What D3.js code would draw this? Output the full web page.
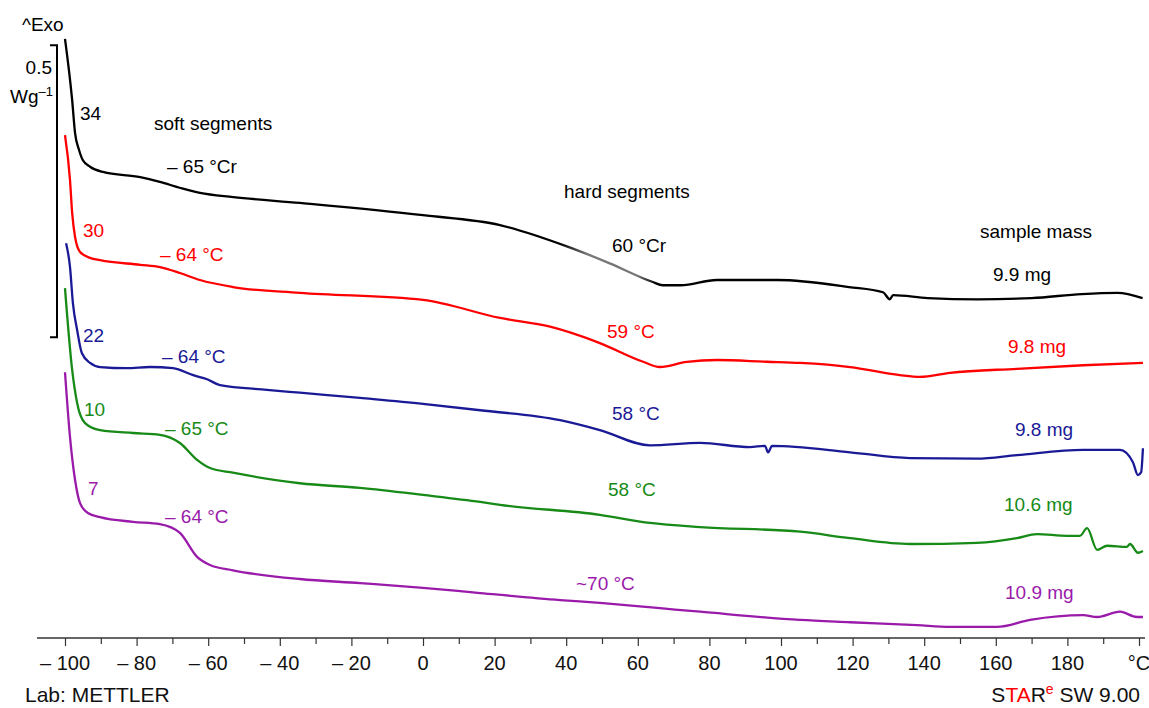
<!DOCTYPE html>
<html>
<head>
<meta charset="utf-8">
<script src="https://cdn.jsdelivr.net/npm/d3@7"></script>
<style>
  html, body { margin: 0; padding: 0; background: #fff; }
  svg { display: block; font-family: "Liberation Sans", Arial, Helvetica, sans-serif; }
</style>
</head>
<body>
<svg id="chart" width="1149" height="708"></svg>
<script>
// ---- Data (temperature in °C, heat flow in W/g, arbitrary offset per curve) ----
const tempTicks = [-100, -90, -80, -70, -60, -50, -40, -30, -20, -10, 0, 10, 20, 30, 40, 50, 60, 70, 80, 90, 100, 110, 120, 130, 140, 150, 160, 170, 180, 190, 200];
const tickLabels = ["– 100", "– 80", "– 60", "– 40", "– 20", "0", "20", "40", "60", "80", "100", "120", "140", "160", "180", "°C"];

const seriesNames = ["34", "30", "22", "10", "7"];
const sampleMasses = ["9.9 mg", "9.8 mg", "9.8 mg", "10.6 mg", "10.9 mg"];
const softTg = ["– 65 °Cr", "– 64 °C", "– 64 °C", "– 65 °C", "– 64 °C"];
const hardTg = ["60 °Cr", "59 °C", "58 °C", "58 °C", "~70 °C"];

const t34 = [-100, -98, -97.2, -96.1, -95, -93, -89.4, -79, -73.5, -68, -62.3, -53, -34.4, 0, 21.5, 40, 52, 64, 67, 72, 82, 99, 119, 128.5, 130.4, 131.3, 141, 155, 170, 184, 194, 201];
const hf34 = [1.026, 0.921, 0.865, 0.836, 0.818, 0.807, 0.798, 0.789, 0.781, 0.771, 0.762, 0.755, 0.745, 0.724, 0.707, 0.671, 0.642, 0.610, 0.604, 0.604, 0.613, 0.613, 0.601, 0.592, 0.580, 0.587, 0.582, 0.580, 0.582, 0.589, 0.591, 0.582];

const t30 = [-100, -98.6, -98, -97.2, -95.8, -93, -90.2, -79, -73.5, -67.9, -62.3, -53.1, -34.4, 0, 21.5, 35.5, 49.4, 61.5, 66.2, 73.7, 82.1, 96.1, 105.3, 119.3, 133.2, 138.8, 147.2, 165.9, 184.4, 201.1];
const hf30 = [0.861, 0.784, 0.728, 0.687, 0.661, 0.651, 0.647, 0.639, 0.635, 0.625, 0.613, 0.601, 0.591, 0.579, 0.548, 0.533, 0.505, 0.473, 0.464, 0.473, 0.476, 0.473, 0.471, 0.464, 0.450, 0.447, 0.454, 0.461, 0.467, 0.471];

const t22 = [-99.7, -98.6, -97.8, -96.6, -95.3, -93, -90.2, -82.7, -76.3, -69.8, -64.2, -60.3, -56.7, -43.6, -34.4, -17.6, 0, 16, 38.3, 49.4, 63.4, 77.4, 91.3, 95.5, 96.4, 97.5, 119.3, 136, 154.7, 165.9, 184.4, 194.7, 198.3, 199.7, 200.6, 201.1];
const hf22 = [0.676, 0.635, 0.574, 0.527, 0.488, 0.471, 0.464, 0.462, 0.464, 0.462, 0.450, 0.443, 0.433, 0.425, 0.420, 0.411, 0.401, 0.390, 0.373, 0.356, 0.330, 0.334, 0.327, 0.329, 0.318, 0.329, 0.318, 0.308, 0.307, 0.313, 0.322, 0.322, 0.301, 0.279, 0.284, 0.325];

const t10 = [-100, -98, -96.6, -94.4, -90.2, -81, -73.5, -67.9, -63.1, -59.5, -53.1, -34.4, -17.6, 0, 16, 21.5, 49.4, 63.4, 77.4, 105.3, 119.3, 136, 154.7, 165.9, 171.5, 179.9, 183.5, 185.5, 188.3, 191.1, 196.6, 197.5, 199.7, 201.1];
const hf10 = [0.599, 0.459, 0.402, 0.368, 0.356, 0.351, 0.348, 0.334, 0.305, 0.291, 0.283, 0.265, 0.257, 0.245, 0.233, 0.228, 0.211, 0.197, 0.190, 0.182, 0.171, 0.161, 0.163, 0.171, 0.178, 0.175, 0.175, 0.188, 0.151, 0.158, 0.156, 0.161, 0.146, 0.149];

const t7 = [-100, -98.6, -97.2, -95.8, -93.6, -90.2, -81, -73.5, -67.9, -63.1, -59.5, -53.1, -34.4, -17.6, 0, 16, 38.3, 49.4, 66.2, 77.4, 105.3, 119.3, 138, 147.2, 160.3, 169.6, 184.4, 188.3, 194.7, 199.4, 201.1];
const hf7 = [0.455, 0.344, 0.271, 0.231, 0.214, 0.207, 0.199, 0.195, 0.180, 0.139, 0.125, 0.116, 0.101, 0.094, 0.086, 0.077, 0.065, 0.060, 0.051, 0.045, 0.031, 0.027, 0.022, 0.019, 0.019, 0.031, 0.039, 0.036, 0.045, 0.036, 0.036];

const scaleBar = [0.515, 1.015]; // 0.5 W/g

// ---- Layout / styles ----
const colors = ["#000000", "#ff0000", "#1a1a96", "#178a17", "#9a1aaa"];
const fontSize = 19;
const tickFont = 20;
const footFont = 21;

const svg = d3.select("#chart");
const x = d3.scaleLinear().domain([-100, 200]).range([65, 1139]);
const y = d3.scaleLinear().domain([0, 1]).range([638, 54]);

const series = [
  {t: t34, v: hf34}, {t: t30, v: hf30}, {t: t22, v: hf22}, {t: t10, v: hf10}, {t: t7, v: hf7}
].map((s, i) => ({name: seriesNames[i], color: colors[i], pts: s.t.map((tt, j) => [tt, s.v[j]])}));

// gradient for lighter section of black curve
const defs = svg.append("defs");
const grad = defs.append("linearGradient").attr("id", "g34")
  .attr("gradientUnits", "userSpaceOnUse")
  .attr("x1", x(-100)).attr("x2", x(200)).attr("y1", 0).attr("y2", 0);
[[38, "#000"], [46, "#777"], [60, "#777"], [65, "#000"]].forEach(([t, c]) => {
  grad.append("stop").attr("offset", (x(t) - x(-100)) / (x(200) - x(-100))).attr("stop-color", c);
});

// axis
const axisY = 638;
svg.append("line").attr("x1", 37).attr("x2", 1145).attr("y1", axisY).attr("y2", axisY)
  .attr("stroke", "#333").attr("stroke-width", 1.3);
const axisG = svg.append("g").attr("transform", `translate(0,${axisY})`)
  .call(d3.axisBottom(x).tickValues(tempTicks).tickSize(7).tickFormat(""));
axisG.select(".domain").remove();
axisG.selectAll(".tick line").attr("stroke", "#333").attr("stroke-width", 1.2)
  .attr("y2", d => (d % 20 === 0 ? 8 : 6));

const labelTicks = tempTicks.filter(d => d % 20 === 0);
svg.append("g").selectAll("text").data(labelTicks).join("text")
  .attr("x", d => x(d)).attr("y", 670)
  .attr("text-anchor", "middle").attr("font-size", tickFont).attr("fill", "#111")
  .text((d, i) => tickLabels[i]);

// curves
const line = d3.line().x(d => x(d[0])).y(d => y(d[1])).curve(d3.curveMonotoneX);
svg.append("g").selectAll("path").data(series).join("path")
  .attr("d", d => line(d.pts))
  .attr("fill", "none")
  .attr("stroke", (d, i) => i === 0 ? "url(#g34)" : d.color)
  .attr("stroke-width", 2.3)
  .attr("stroke-linejoin", "round");

// scale bar
const sb = svg.append("g").attr("stroke", "#000").attr("stroke-width", 2).attr("fill", "none");
sb.append("path").attr("d", `M50,${y(scaleBar[1])}H57V${y(scaleBar[0])}H50`);

const txt = (s, px, py, color, anchor, size) => svg.append("text")
  .attr("x", px).attr("y", py).attr("fill", color || "#000")
  .attr("font-size", size || fontSize).attr("text-anchor", anchor || "start").text(s);

txt("^Exo", 22, 31);
txt("0.5", 52, 74, "#000", "end");
const wg = svg.append("text").attr("x", 10).attr("y", 103).attr("font-size", fontSize).attr("fill", "#000");
wg.append("tspan").text("Wg");
wg.append("tspan").attr("font-size", 13).attr("dy", -7).text("–1");

txt("soft segments", 154, 130);
txt("hard segments", 564, 198);
txt("sample mass", 980, 238);

// per-series labels
const nameX = [80, 83, 83, 84, 88];
const nameY = [120, 237, 342, 416, 495];
const softX = [167, 160, 162, 165, 165];
const softY = [173, 261, 363, 435, 523];
const hardX = [612, 607, 612, 608, 576];
const hardY = [252, 338, 420, 496, 590];
const massX = [993, 1008, 1015, 1004, 1005];
const massY = [281, 353, 436, 511, 599];
series.forEach((s, i) => {
  txt(seriesNames[i], nameX[i], nameY[i], s.color);
  txt(softTg[i], softX[i], softY[i], s.color);
  txt(hardTg[i], hardX[i], hardY[i], s.color);
  txt(sampleMasses[i], massX[i], massY[i], s.color);
});

// footer
txt("Lab: METTLER", 25, 702, "#111", "start", footFont);
const star = svg.append("text").attr("x", 1140).attr("y", 702).attr("text-anchor", "end")
  .attr("font-size", footFont).attr("fill", "#111");
star.append("tspan").text("S");
star.append("tspan").attr("fill", "#ff0000").text("TA");
star.append("tspan").text("R");
star.append("tspan").attr("fill", "#ff0000").attr("font-size", 14).attr("dy", -8).text("e");
star.append("tspan").attr("dy", 8).text(" SW 9.00");
</script>
</body>
</html>
